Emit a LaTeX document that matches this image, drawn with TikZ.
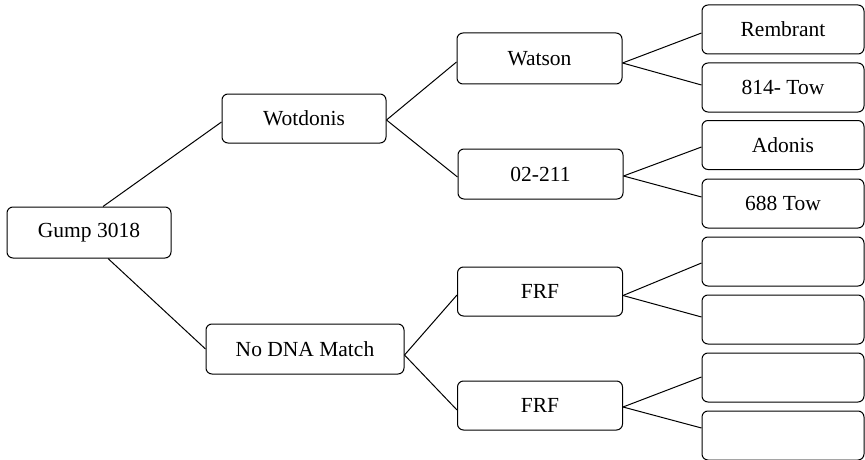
\documentclass[tikz,border=0pt]{standalone}
\usepackage{fontspec}
\setmainfont{Liberation Serif}
\begin{document}
\begin{tikzpicture}[x=1pt,y=-1pt,
  box/.style={draw,line width=1pt,rounded corners=6pt,minimum width=165pt,minimum height=49pt,inner sep=0pt,font=\fontsize{21.5}{25}\selectfont},
  leaf/.style={box,minimum width=162pt},
  conn/.style={line width=1pt}]
\useasboundingbox (0,0) rectangle (865,460);
\node[box,minimum width=164pt,minimum height=51pt] (g) at (89,232.5) {Gump 3018};
\node[box,minimum width=164pt] (w) at (304,118.5) {Wotdonis};
\node[box,minimum width=198pt,minimum height=50pt] (n) at (305,349) {No DNA Match};
\node[box,minimum height=51pt] (wa) at (539.5,58.5) {Watson};
\node[box,minimum height=50pt] (o) at (540.5,174) {02-211};
\node[box] (f1) at (540,291.5) {FRF};
\node[box] (f2) at (540,405.5) {FRF};
\node[leaf] (r) at (783,29.5) {Rembrant};
\node[leaf] (t8) at (783,87.5) {814- Tow};
\node[leaf] (a) at (783,145) {Adonis};
\node[leaf] (t6) at (783,203.5) {688 Tow};
\node[leaf] (e1) at (783,261.5) {};
\node[leaf] (e2) at (783,319.5) {};
\node[leaf] (e3) at (783,377.5) {};
\node[leaf] (e4) at (783,435.5) {};
\draw[conn] ([xshift=14pt]g.north) -- ([yshift=-3.5pt]w.west);
\draw[conn] ([xshift=19pt]g.south) -- (n.west);
\draw[conn] ([yshift=-1.5pt]w.east) -- ([yshift=-3.5pt]wa.west);
\draw[conn] ([yshift=-1.5pt]w.east) -- ([yshift=-3pt]o.west);
\draw[conn] ([yshift=-4.5pt]wa.east) -- ([yshift=-3.5pt]r.west);
\draw[conn] ([yshift=-4.5pt]wa.east) -- ([yshift=2.5pt]t8.west);
\draw[conn] ([yshift=-2pt]o.east) -- ([yshift=-2pt]a.west);
\draw[conn] ([yshift=-2pt]o.east) -- ([yshift=6.5pt]t6.west);
\draw[conn] ([yshift=-6pt]n.east) -- ([yshift=-3.5pt]f1.west);
\draw[conn] ([yshift=-6pt]n.east) -- ([yshift=-4.5pt]f2.west);
\draw[conn] ([yshift=-4pt]f1.east) -- ([yshift=-1.5pt]e1.west);
\draw[conn] ([yshift=-4pt]f1.east) -- ([yshift=2.5pt]e2.west);
\draw[conn] ([yshift=-1.5pt]f2.east) -- ([yshift=0.5pt]e3.west);
\draw[conn] ([yshift=-1.5pt]f2.east) -- ([yshift=7.5pt]e4.west);
\end{tikzpicture}
\end{document}
